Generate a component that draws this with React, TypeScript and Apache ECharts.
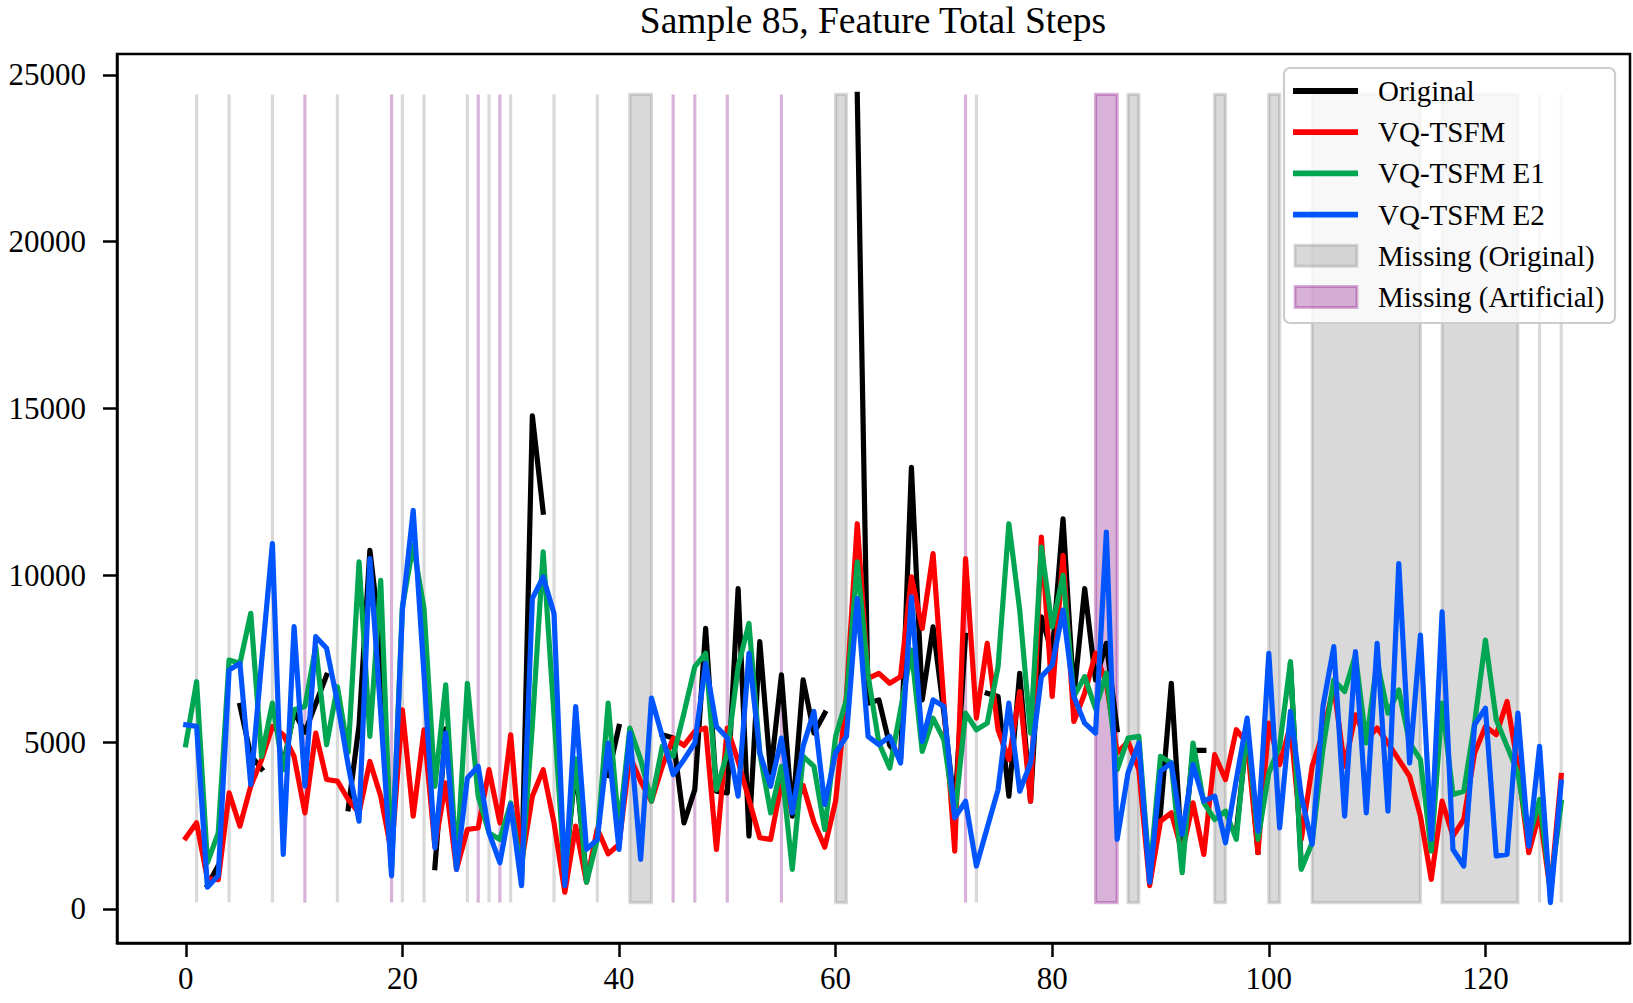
import React, { useEffect, useRef } from "react";
import * as echarts from "echarts";

// ---------- data ----------
const steps: number[] = Array.from({ length: 128 }, (_, i) => i);

const original: (number | null)[] = [
  5000, null, 700, 1300, null, 6100, 4600, 4200, null, 4300,
  5900, 5300, 6150, 7000, null, 3000, 5500, 10750, 8000, 1500,
  null, 11000, null, 1236, 5400, 1500, null, 3000, null, 2000,
  null, 800, 14780, 11893, null, 1000, 4300, 900, null, 4000,
  5470, null, null, null, 5220, 5120, 2580, 3577, 8408, 3527,
  3477, 9603, 2183, 8010, 4076, 7014, 2780, 6866, 5270, 5868,
  null, null, 24412, 6166, 6266, 4900, 4500, 13238, 6266, 8457,
  5870, 3000, 8200, null, 6465, 6366, 3377, 7062, 3227, 8756,
  7660, 11694, 6366, 9602, 6864, 7960, 5370, null, null, 900,
  2880, 6764, 1500, 4750, 4750, null, null, 2300, 5300, 1700,
  null, null, 7300, 1300, null, null, null, null, null, null,
  null, null, null, null, null, 1000, null, null, null, null,
  null, null, null, null, 2000, null, 500, null,
];

const vqTsfm: number[] = [
  2130, 2580, 900, 880, 3480, 2480, 3680, 4470, 5470, 5220,
  4570, 2880, 5270, 3880, 3830, 3280, 2880, 4420, 3380, 1690,
  5970, 2780, 5370, 1880, 3775, 1185, 2380, 2430, 4174, 2580,
  5220, 1385, 3377, 4174, 2580, 500, 2480, 800, 2400, 1650,
  1930, 4573, 3826, 3230, 4275, 5120, 4900, 5320, 5420, 1784,
  5420, 4424, 3280, 2133, 2083, 3776, 2900, 3700, 2600, 1850,
  3230, 6400, 11545, 6913, 7062, 6764, 6963, 9951, 8407, 10648,
  6166, 1733, 10499, 5718, 7959, 5369, 4473, 6515, 3227, 11146,
  6366, 10598, 5618, 6465, 7660, 6764, 4673, 5020, 4175, 700,
  2630, 2880, 1700, 3180, 1635, 4623, 3876, 5370, 4972, 1685,
  5569, 4324, 5500, 2083, 4275, 5270, 6665, 4275, 5818, 5070,
  5420, 4971, 4474, 3976, 2780, 888, 3230, 2183, 2680, 4673,
  5470, 5220, 6216, 4275, 1685, 2880, 500, 4000,
];

const vqTsfmE1: number[] = [
  4920, 6810, 1390, 2280, 7460, 7360, 8860, 4570, 6170, 4170,
  5970, 6070, 7860, 4920, 6660, 4700, 10400, 5170, 9850, 1200,
  9054, 10900, 9000, 3675, 6713, 1285, 6763, 3377, 2280, 2082,
  3177, 1086, 5500, 10700, 5800, 900, 4500, 800, 2082, 6166,
  2380, 5420, 4474, 3230, 4872, 4573, 5868, 7262, 7661, 3578,
  4673, 7263, 8557, 4673, 2880, 4275, 1187, 4573, 4275, 2382,
  5170, 6266, 10400, 7000, 4971, 4224, 5967, 7760, 4722, 5718,
  5070, 2780, 5867, 5369, 5568, 7262, 11545, 8955, 5270, 10847,
  8457, 10001, 6366, 6963, 6000, 7063, 4175, 5120, 5170, 1000,
  4573, 4374, 1087, 4972, 3180, 2680, 2930, 2083, 5500, 2083,
  4076, 4872, 7412, 1187, 1984, 4800, 6864, 6515, 7611, 4972,
  7412, 5868, 6565, 4972, 4474, 1735, 6167, 3427, 3527, 5569,
  8059, 5669, 4872, 4076, 2083, 3280, 600, 3200,
];

const vqTsfmE2: number[] = [
  5520, 5470, 650, 1000, 7160, 7360, 3730, 7400, 10950, 1635,
  8460, 3680, 8160, 7810, 6200, 4300, 2630, 10500, 5870, 990,
  8955, 11943, 7000, 1830, 5270, 1185, 3925, 4274, 2280, 1385,
  3127, 700, 9300, 9950, 8855, 700, 6065, 1784, 2080, 4970,
  1784, 5270, 1485, 6316, 5170, 4025, 4474, 4972, 7362, 5470,
  5120, 3380, 7660, 4673, 3677, 5120, 2880, 4872, 5918, 3130,
  4673, 5170, 9304, 5170, 4921, 5170, 4373, 9353, 5020, 6266,
  6066, 2730, 3227, 1285, 2431, 3576, 6166, 3527, 4373, 6963,
  7311, 8955, 6366, 5568, 5270, 11296, 2083, 4076, 4972, 800,
  4125, 4374, 2233, 4324, 3230, 3380, 1984, 3876, 5718, 2332,
  7661, 2432, 5918, 3380, 1934, 6067, 7860, 2780, 7711, 2880,
  7960, 2930, 10350, 4374, 8209, 2083, 8906, 1785, 1286, 5520,
  6017, 1585, 1635, 5868, 1884, 4872, 190, 3800,
];

const missingOriginal: number[] = [
  1, 4, 8, 14, 20, 22, 26, 28, 30, 34, 38, 41, 42, 43, 60, 61, 73, 87, 88,
  95, 96, 100, 101, 104, 105, 106, 107, 108, 109, 110, 111, 112, 113, 114,
  116, 117, 118, 119, 120, 121, 122, 123, 125, 127,
];
const missingArtificial: number[] = [11, 19, 27, 29, 45, 47, 50, 55, 72, 84, 85, 86];

const xTicks: number[] = [0, 20, 40, 60, 80, 100, 120];
const yTicks: number[] = [0, 5000, 10000, 15000, 20000, 25000];

const TITLE = "Sample 85, Feature Total Steps";
const NAMES = ["Original", "VQ-TSFM", "VQ-TSFM E1", "VQ-TSFM E2", "Missing (Original)", "Missing (Artificial)"];

// ---------- helpers ----------
function runsOf(idx: number[]): [number, number][] {
  const s = [...idx].sort((a, b) => a - b);
  const out: [number, number][] = [];
  for (const v of s) {
    const last = out[out.length - 1];
    if (last && v === last[1] + 1) last[1] = v;
    else out.push([v, v]);
  }
  return out;
}

const FONT = "'Liberation Serif', 'Times New Roman', serif";
const GRAY_FILL = "rgba(128,128,128,0.3)";
const PURPLE_FILL = "rgba(128,0,128,0.3)";

export default function App() {
  const ref = useRef<HTMLDivElement>(null);

  useEffect(() => {
    document.body.style.margin = "0";
    if (!ref.current) return;
    const chart = echarts.init(ref.current, undefined, { renderer: "svg" });

    const all: number[] = [];
    [original, vqTsfm, vqTsfmE1, vqTsfmE2].forEach((arr) =>
      arr.forEach((v) => {
        if (v !== null && v !== undefined) all.push(v as number);
      })
    );
    const dMin = Math.min(...all);
    const dMax = Math.max(...all);
    const yPad = (dMax - dMin) * 0.05;
    const xFirst = steps[0];
    const xLast = steps[steps.length - 1];
    const xPad = (xLast - xFirst) * 0.05;

    const shadeData = [
      ...runsOf(missingOriginal).map((r) => [r[0], r[1], 0]),
      ...runsOf(missingArtificial).map((r) => [r[0], r[1], 1]),
    ];

    const lineSeries = (name: string, arr: (number | null)[], color: string, z: number) => ({
      type: "line",
      name,
      data: steps.map((x, i) => [x, arr[i]]),
      showSymbol: false,
      symbol: "none",
      connectNulls: false,
      lineStyle: { color, width: 5.2, join: "round", cap: "square" },
      itemStyle: { color },
      z,
      silent: true,
    });

    const legendTop = 68;
    const rowH = 41.2;
    const firstRow = 91;
    const legendItems: any[] = [
      {
        type: "rect",
        shape: { x: 1284, y: legendTop, width: 331, height: 255, r: 6 },
        style: { fill: "rgba(255,255,255,0.8)", stroke: "#cccccc", lineWidth: 2.2 },
        z: 100,
      },
    ];
    const lineColors = ["#000000", "#ff0000", "#00a651", "#0055ff"];
    NAMES.forEach((n, i) => {
      const cy = firstRow + i * rowH;
      if (i < 4) {
        legendItems.push({
          type: "line",
          shape: { x1: 1293, y1: cy, x2: 1358, y2: cy },
          style: { stroke: lineColors[i], lineWidth: 5.8 },
          z: 101,
        });
      } else {
        const fill = i === 4 ? GRAY_FILL : PURPLE_FILL;
        legendItems.push({
          type: "rect",
          shape: { x: 1295, y: cy - 10.5, width: 62, height: 21 },
          style: { fill, stroke: fill, lineWidth: 3 },
          z: 101,
        });
      }
      legendItems.push({
        type: "text",
        x: 1378,
        y: cy,
        style: {
          text: n,
          fontFamily: FONT,
          fontSize: 29,
          fill: "#000",
          align: "left",
          verticalAlign: "middle",
        },
        z: 102,
      });
    });

    const option: any = {
      animation: false,
      backgroundColor: "#ffffff",
      grid: {
        left: 117,
        right: 3,
        top: 54,
        bottom: 60,
        show: true,
        borderColor: "#000",
        borderWidth: 2.5,
        backgroundColor: "transparent",
        containLabel: false,
      },
      xAxis: {
        type: "value",
        min: xFirst - xPad,
        max: xLast + xPad,
        axisLine: { show: true, onZero: false, lineStyle: { color: "#000", width: 2.5 } },
        axisTick: { show: true, length: 14, lineStyle: { color: "#000", width: 2.5 }, customValues: xTicks },
        axisLabel: {
          show: true,
          customValues: xTicks,
          margin: 20,
          fontSize: 31,
          fontFamily: FONT,
          color: "#000",
          formatter: (v: number) => String(v),
        },
        splitLine: { show: false },
      },
      yAxis: {
        type: "value",
        min: dMin - yPad,
        max: dMax + yPad,
        axisLine: { show: true, onZero: false, lineStyle: { color: "#000", width: 2.5 } },
        axisTick: { show: true, length: 14, lineStyle: { color: "#000", width: 2.5 }, customValues: yTicks },
        axisLabel: {
          show: true,
          customValues: yTicks,
          margin: 31,
          fontSize: 31,
          fontFamily: FONT,
          color: "#000",
          formatter: (v: number) => String(v),
        },
        splitLine: { show: false },
      },
      graphic: [
        {
          type: "text",
          x: 873,
          y: 20,
          style: {
            text: TITLE,
            fontFamily: FONT,
            fontSize: 37.5,
            fill: "#000",
            align: "center",
            verticalAlign: "middle",
          },
        },
        ...legendItems,
      ],
      series: [
        {
          type: "custom",
          name: "Missing",
          data: shadeData,
          silent: true,
          z: 1,
          clip: true,
          renderItem: (params: any, api: any) => {
            const a = api.value(0);
            const b = api.value(1);
            const kind = api.value(2);
            const p0 = api.coord([a, dMax]);
            const p1 = api.coord([b, dMin]);
            const fill = kind === 1 ? PURPLE_FILL : GRAY_FILL;
            return {
              type: "rect",
              shape: { x: p0[0], y: p0[1], width: p1[0] - p0[0], height: p1[1] - p0[1] },
              style: { fill, stroke: fill, lineWidth: 3.2 },
            };
          },
        },
        lineSeries(NAMES[0], original, lineColors[0], 3),
        lineSeries(NAMES[1], vqTsfm, lineColors[1], 4),
        lineSeries(NAMES[2], vqTsfmE1, lineColors[2], 5),
        lineSeries(NAMES[3], vqTsfmE2, lineColors[3], 6),
      ],
    };

    chart.setOption(option);
    return () => chart.dispose();
  }, []);

  return <div ref={ref} style={{ width: 1633, height: 1003 }} />;
}
